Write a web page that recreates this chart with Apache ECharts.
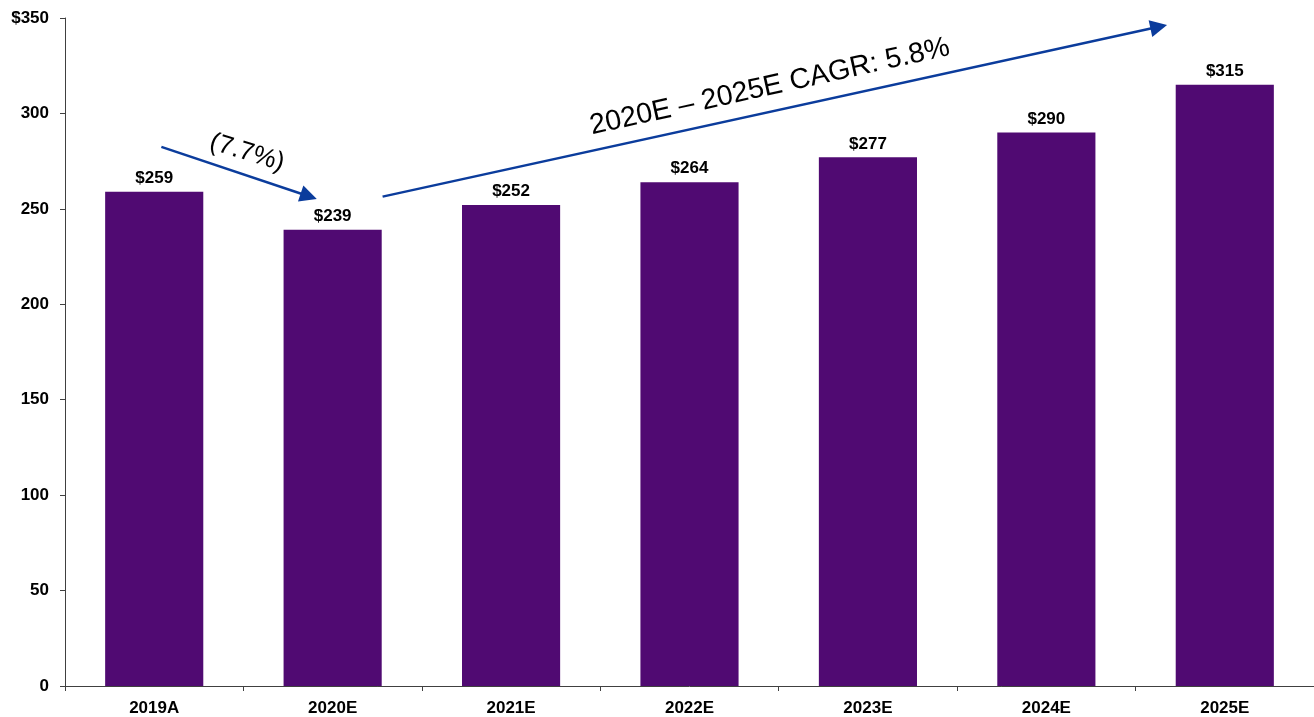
<!DOCTYPE html>
<html>
<head>
<meta charset="utf-8">
<script src="https://cdn.jsdelivr.net/npm/echarts@6/dist/echarts.min.js"></script>
<style>
  html, body { margin: 0; padding: 0; background: #fff; }
  #chart { width: 1314px; height: 717px; }
</style>
</head>
<body>
<div id="chart"></div>
<script>
// categories and bar values
const years = ['2019A', '2020E', '2021E', '2022E', '2023E', '2024E', '2025E'];
const values = [259, 239, 252, 264, 277, 290, 315];
const yTicks = { min: 0, max: 350, interval: 50 };

// arrows, in [category position, value] so they follow the axes
const declineArrow = [[0.04, 282.5], [0.866, 256.6]];
const cagrArrow = [[1.28, 256.4], [5.63, 345.4]];
// annotation texts: [category position, value, text]
const declineNote = [0.52, 279.4, '(7.7%)'];
const cagrNote = [3.45, 313.9, '2020E \u2013 2025E CAGR: 5.8%'];

const font = '"Liberation Sans", Arial, sans-serif';
const axisColor = '#404040';
const arrowColor = '#0B3C9C';

const chart = echarts.init(document.getElementById('chart'));

const noteLabel = (rotate, size, text) => ({
  show: true,
  position: 'inside',
  rotate: rotate,
  fontSize: size,
  fontFamily: font,
  color: '#000',
  opacity: 1,
  textBorderWidth: 0,
  formatter: text
});

const option = {
  animation: false,
  grid: { left: 65, top: 18, bottom: 30, width: 1252 },
  xAxis: [{
    type: 'category',
    data: years,
    axisLine: { lineStyle: { color: axisColor, width: 1 } },
    axisTick: { show: true, length: 5, lineStyle: { color: axisColor } },
    axisLabel: { color: '#000', fontFamily: font, fontWeight: 'bold', fontSize: 17, margin: 14 }
  }, {
    // hidden helper axis for placing the annotations between categories
    type: 'value',
    min: -0.5,
    max: years.length - 0.5,
    show: false
  }],
  yAxis: {
    type: 'value',
    min: yTicks.min,
    max: yTicks.max,
    interval: yTicks.interval,
    splitLine: { show: false },
    axisLine: { show: true, onZero: false, lineStyle: { color: axisColor, width: 1 } },
    axisTick: { show: true, length: 5, lineStyle: { color: axisColor } },
    axisLabel: {
      color: '#000', fontFamily: font, fontWeight: 'bold', fontSize: 17, margin: 16,
      formatter: v => v === yTicks.max ? '$' + v : String(v)
    }
  },
  series: [{
    type: 'bar',
    data: values,
    barWidth: '55%',
    itemStyle: { color: '#500A72' },
    label: {
      show: true,
      position: 'top',
      distance: 5,
      color: '#000',
      fontFamily: font,
      fontWeight: 'bold',
      fontSize: 17,
      formatter: p => '$' + p.value
    }
  }, {
    type: 'lines',
    coordinateSystem: 'cartesian2d',
    xAxisIndex: 1,
    symbol: ['none', 'triangle'],
    symbolSize: [15, 17],
    lineStyle: { color: arrowColor, width: 2.5, opacity: 1 },
    itemStyle: { color: arrowColor },
    data: [{ coords: declineArrow }, { coords: cagrArrow }],
    silent: true
  }, {
    type: 'scatter',
    xAxisIndex: 1,
    symbolSize: 1,
    itemStyle: { color: 'rgba(0,0,0,0)', opacity: 1 },
    silent: true,
    data: [
      { value: declineNote.slice(0, 2), label: noteLabel(-17, 26, declineNote[2]) },
      { value: cagrNote.slice(0, 2), label: noteLabel(12.5, 28.5, cagrNote[2]) }
    ]
  }]
};

chart.setOption(option);
</script>
</body>
</html>
